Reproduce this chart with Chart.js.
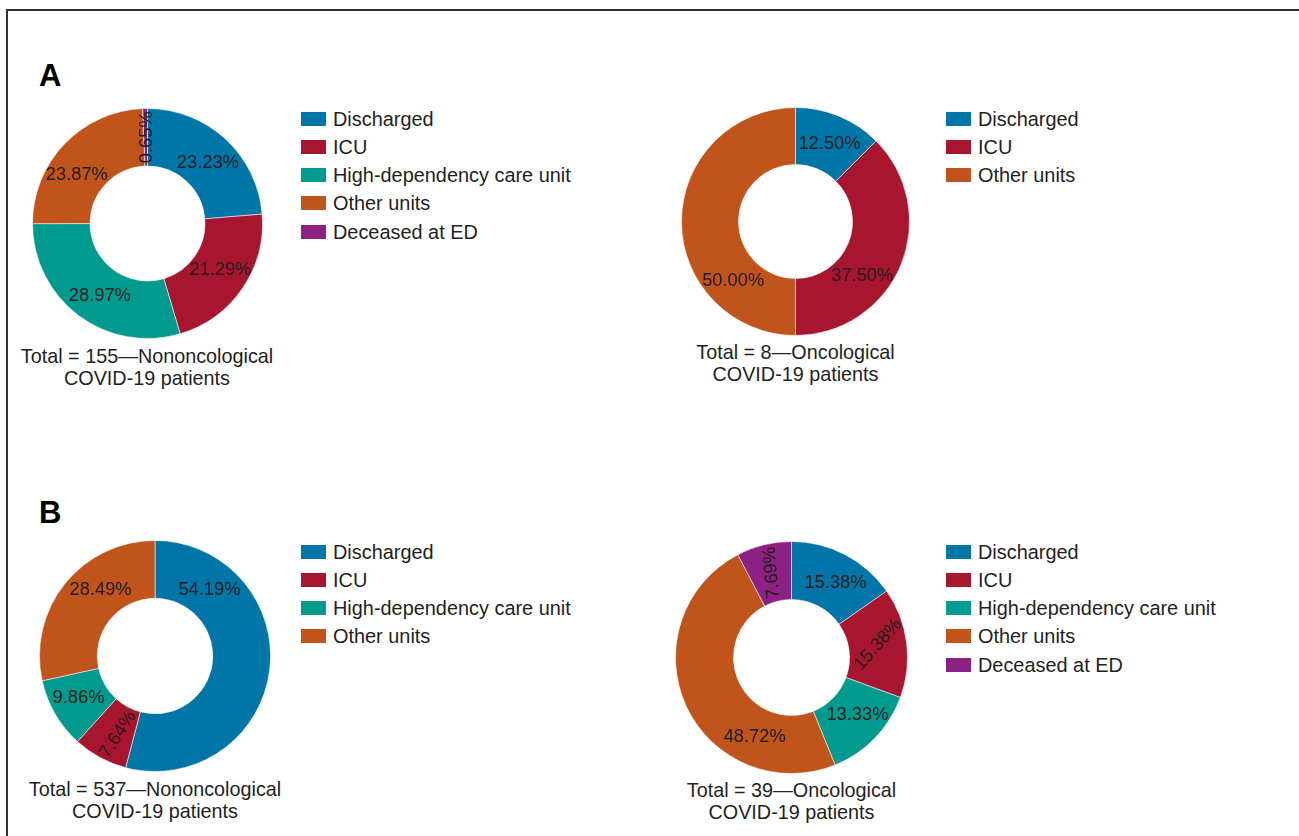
<!DOCTYPE html>
<html>
<head>
<meta charset="utf-8">
<script src="https://cdn.jsdelivr.net/npm/chart.js@4"></script>
<style>
  body { margin: 0; background: #fff; width: 1299px; height: 836px; overflow: hidden; position: relative;
         font-family: "Liberation Sans", Arial, sans-serif; color: #231f20; }
  .frame { position: absolute; left: 6px; top: 9px; width: 1400px; height: 900px;
           border-left: 2px solid #333; border-top: 2px solid #333; }
  .panel { position: absolute; font-weight: bold; font-size: 31px; line-height: 31px; color: #000; }
  .pie { position: absolute; }
  .legend { position: absolute; }
  .row { position: absolute; left: 0; height: 20px; display: flex; align-items: center; white-space: nowrap; }
  .row i { display: inline-block; width: 25px; height: 14px; margin-right: 7px; }
  .row span { font-size: 19.9px; line-height: 20px; }
  .caption { position: absolute; width: 340px; text-align: center; font-size: 19.8px; line-height: 21.5px; }
</style>
</head>
<body>
<div class="frame"></div>
<div class="panel" style="left:39px;top:60px">A</div>
<div class="panel" style="left:39px;top:497px">B</div>

<script>
// Categories and colours
const categories = ['Discharged', 'ICU', 'High-dependency care unit', 'Other units', 'Deceased at ED'];
const categoryColors = ['#0075a7', '#a8152f', '#009a8f', '#c1541b', '#8c2083'];

// Panel A — nononcological (total 155)
const aNonOncoLabels = ['Discharged', 'ICU', 'High-dependency care unit', 'Other units', 'Deceased at ED'];
const aNonOncoValues = [23.23, 21.29, 28.97, 23.87, 0.65];
const aNonOncoCaption = ['Total = 155\u2014Nononcological', 'COVID-19 patients'];

// Panel A — oncological (total 8)
const aOncoLabels = ['Discharged', 'ICU', 'Other units'];
const aOncoValues = [12.50, 37.50, 50.00];
const aOncoCaption = ['Total = 8\u2014Oncological', 'COVID-19 patients'];

// Panel B — nononcological (total 537)
const bNonOncoLabels = ['Discharged', 'ICU', 'High-dependency care unit', 'Other units'];
const bNonOncoValues = [54.19, 7.64, 9.86, 28.49];
const bNonOncoCaption = ['Total = 537\u2014Nononcological', 'COVID-19 patients'];

// Panel B — oncological (total 39)
const bOncoLabels = ['Discharged', 'ICU', 'High-dependency care unit', 'Other units', 'Deceased at ED'];
const bOncoValues = [15.38, 15.38, 13.33, 48.72, 7.69];
const bOncoCaption = ['Total = 39\u2014Oncological', 'COVID-19 patients'];

// Where each chart sits on the page, plus label placement inside slices
const layouts = [
    { labels: aNonOncoLabels, values: aNonOncoValues, caption: aNonOncoCaption,
      cx: 147, cy: 223, r: 115, legendX: 301, legendY: 118.5, captionY: 346,
      labelAt: [0.52, 0.47, 0.47, 0.40, 0.5], labelRot: [null, null, null, null, -90] },
    { labels: aOncoLabels, values: aOncoValues, caption: aOncoCaption,
      cx: 795.5, cy: 221, r: 114, legendX: 946, legendY: 118.5, captionY: 342,
      labelAt: [0.52, 0.62, 0.26], labelRot: [null, null, null] },
    { labels: bNonOncoLabels, values: bNonOncoValues, caption: bNonOncoCaption,
      cx: 155, cy: 656, r: 115.5, legendX: 301, legendY: 551.5, captionY: 779,
      labelAt: [0.2, 0.4, 0.56, 0.62], labelRot: [null, -57, null, null] },
    { labels: bOncoLabels, values: bOncoValues, caption: bOncoCaption,
      cx: 791.5, cy: 657, r: 116, legendX: 946, legendY: 551.5, captionY: 780,
      labelAt: [0.55, 0.47, 0.43, 0.27, 0.5], labelRot: [null, -48, null, null, -95] }
];

const rowGap = 28.3;

// Percent labels drawn inside the ring
const sliceLabels = {
    id: 'sliceLabels',
    afterDatasetsDraw(chart, args, opts) {
        const ctx = chart.ctx;
        const meta = chart.getDatasetMeta(0);
        const values = chart.data.datasets[0].data;
        ctx.save();
        ctx.font = '18.3px "Liberation Sans", Arial, sans-serif';
        ctx.fillStyle = '#1f1c1d';
        ctx.textAlign = 'center';
        ctx.textBaseline = 'middle';
        meta.data.forEach((arc, i) => {
            const p = arc.getProps(['x', 'y', 'startAngle', 'endAngle', 'innerRadius', 'outerRadius'], true);
            const t = opts.at[i];
            const a = p.startAngle + t * (p.endAngle - p.startAngle);
            const rr = (p.innerRadius + p.outerRadius) / 2;
            const x = p.x + Math.cos(a) * rr;
            const y = p.y + Math.sin(a) * rr;
            ctx.save();
            ctx.translate(x, y);
            if (opts.rot[i] !== null) ctx.rotate(opts.rot[i] * Math.PI / 180);
            ctx.fillText(values[i].toFixed(2) + '%', 0, 1);
            ctx.restore();
        });
        ctx.restore();
    }
};

layouts.forEach((l, n) => {
    const size = 2 * l.r + 1;
    const box = document.createElement('div');
    box.className = 'pie';
    box.style.left = (l.cx - size / 2) + 'px';
    box.style.top = (l.cy - size / 2) + 'px';
    box.style.width = size + 'px';
    box.style.height = size + 'px';
    const canvas = document.createElement('canvas');
    box.appendChild(canvas);
    document.body.appendChild(box);

    const colors = l.labels.map(c => categoryColors[categories.indexOf(c)]);

    new Chart(canvas, {
        type: 'doughnut',
        data: {
            labels: l.labels,
            datasets: [{
                data: l.values,
                backgroundColor: colors,
                borderColor: 'rgba(255,255,255,0.55)',
                borderWidth: 1
            }]
        },
        options: {
            responsive: true,
            maintainAspectRatio: false,
            animation: false,
            cutout: '50%',
            layout: { padding: 0 },
            plugins: {
                legend: { display: false },
                tooltip: { enabled: false },
                sliceLabels: { at: l.labelAt, rot: l.labelRot }
            }
        },
        plugins: [sliceLabels]
    });

    // legend
    const legend = document.createElement('div');
    legend.className = 'legend';
    legend.style.left = l.legendX + 'px';
    legend.style.top = '0px';
    l.labels.forEach((c, i) => {
        const row = document.createElement('div');
        row.className = 'row';
        row.style.top = (l.legendY + i * rowGap - 10) + 'px';
        row.innerHTML = `<i style="background:${categoryColors[categories.indexOf(c)]}"></i><span>${c}</span>`;
        legend.appendChild(row);
    });
    document.body.appendChild(legend);

    // caption
    const cap = document.createElement('div');
    cap.className = 'caption';
    cap.style.left = (l.cx - 170) + 'px';
    cap.style.top = l.captionY + 'px';
    cap.innerHTML = l.caption.join('<br>');
    document.body.appendChild(cap);
});
</script>
</body>
</html>
